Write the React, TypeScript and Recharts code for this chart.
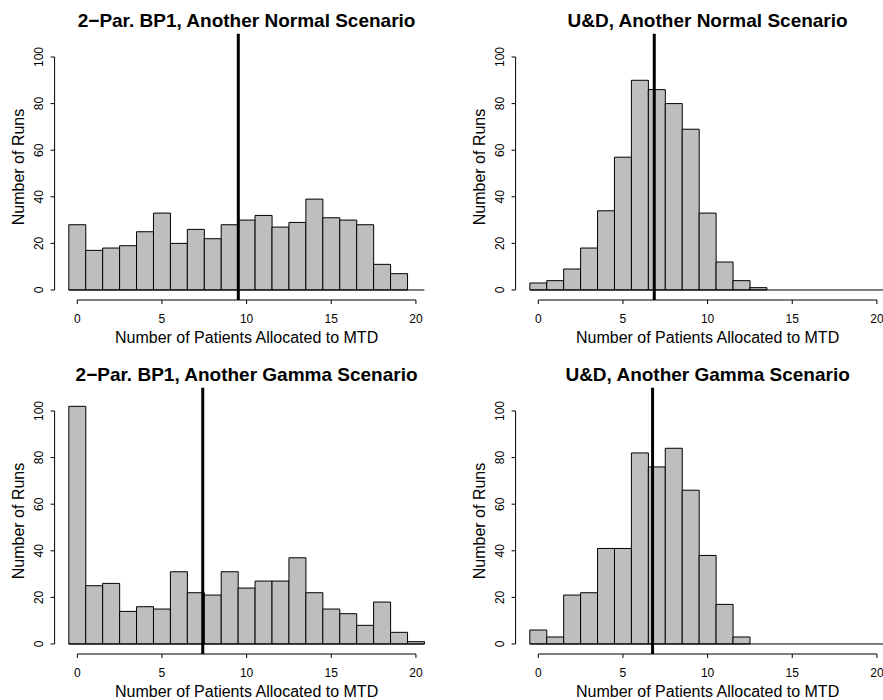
import { ComposedChart, Bar, XAxis, YAxis, ReferenceLine, Label } from "recharts";

const FONT = '"Liberation Sans", Arial, Helvetica, sans-serif';

// bins of the histogram (number of patients allocated to the MTD)
const bins = [0, 1, 2, 3, 4, 5, 6, 7, 8, 9, 10, 11, 12, 13, 14, 15, 16, 17, 18, 19, 20];
const xTicks = [0, 5, 10, 15, 20];
const yTicks = [0, 20, 40, 60, 80, 100];

// counts read off the picture, 500 runs each
const bp1Normal = [28, 17, 18, 19, 25, 33, 20, 26, 22, 28, 30, 32, 27, 29, 39, 31, 30, 28, 11, 7, 0];
const udNormal = [3, 4, 9, 18, 34, 57, 90, 86, 80, 69, 33, 12, 4, 1, 0, 0, 0, 0, 0, 0, 0];
const bp1Gamma = [102, 25, 26, 14, 16, 15, 31, 22, 21, 31, 24, 27, 27, 37, 22, 15, 13, 8, 18, 5, 1];
const udGamma = [6, 3, 21, 22, 41, 41, 82, 76, 84, 66, 38, 17, 3, 0, 0, 0, 0, 0, 0, 0, 0];

// position of the vertical line in each panel
const meanLines = [9.51, 6.85, 7.41, 6.75];

// plot region, R style (4% extension around the breaks / ylim)
const X_MIN = -1.34;
const X_MAX = 21.34;
const Y_MIN = -4.3;
const Y_MAX = 110;
const AXIS_Y = 300; // pixel row of the x axis inside a panel

const XTick = (p: any) => {
  const v = p.payload.value;
  if (!xTicks.includes(v)) return <g />;
  return (
    <g>
      <line x1={p.x} x2={p.x} y1={AXIS_Y} y2={AXIS_Y + 4} stroke="#000" />
      <text x={p.x} y={AXIS_Y + 23.3} textAnchor="middle" fontSize={12} fontFamily={FONT} fill="#000">
        {v}
      </text>
    </g>
  );
};

const YTick = (p: any) => {
  const bx = p.x - 7.3;
  return (
    <text
      x={bx}
      y={p.y}
      transform={`rotate(-90, ${bx}, ${p.y})`}
      textAnchor="middle"
      fontSize={12}
      fontFamily={FONT}
      fill="#000"
    >
      {p.payload.value}
    </text>
  );
};

const Panel = ({ title, counts, mean, left, top }: any) => {
  const data = bins.map((b, i) => ({ bin: b, count: counts[i] }));
  return (
    <div style={{ position: "absolute", left, top }}>
      <ComposedChart
        width={441}
        height={350}
        data={data}
        margin={{ top: 33.7, right: 2.4, bottom: 0, left: 0 }}
        barCategoryGap={0}
        barGap={0}
      >
        <XAxis
          xAxisId="bin"
          dataKey="bin"
          type="category"
          orientation="top"
          height={0}
          hide
          padding={{ left: 14.2, right: 14.2 }}
        />
        <XAxis
          xAxisId="n"
          dataKey="bin"
          type="number"
          domain={[X_MIN, X_MAX]}
          allowDataOverflow
          ticks={xTicks}
          interval={0}
          height={50}
          axisLine={false}
          tickLine={false}
          tick={XTick}
        >
          <Label
            content={() => (
              <text x={246.6} y={343} textAnchor="middle" fontSize={16} fontFamily={FONT} fill="#000">
                Number of Patients Allocated to MTD
              </text>
            )}
          />
        </XAxis>
        <YAxis
          type="number"
          domain={[Y_MIN, Y_MAX]}
          allowDataOverflow
          ticks={yTicks}
          interval={0}
          width={54.6}
          axisLine={false}
          tickLine={{ stroke: "#000" }}
          tickSize={4}
          tickMargin={0}
          tick={YTick}
        >
          <Label
            content={() => (
              <text
                x={24}
                y={167}
                transform="rotate(-90, 24, 167)"
                textAnchor="middle"
                fontSize={16}
                fontFamily={FONT}
                fill="#000"
              >
                Number of Runs
              </text>
            )}
          />
          <Label
            content={() => (
              <text x={246.6} y={27} textAnchor="middle" fontSize={19} fontWeight="bold" fontFamily={FONT} fill="#000">
                {title}
              </text>
            )}
          />
        </YAxis>
        <Bar xAxisId="bin" dataKey="count" fill="#bebebe" stroke="#000" strokeWidth={1} isAnimationActive={false} />
        <ReferenceLine xAxisId="n" ifOverflow="visible" segment={[{ x: -0.5, y: 0 }, { x: 20.5, y: 0 }]} stroke="#000" />
        <ReferenceLine xAxisId="n" ifOverflow="visible" segment={[{ x: 0, y: Y_MIN }, { x: 20, y: Y_MIN }]} stroke="#000" />
        <ReferenceLine xAxisId="n" ifOverflow="visible" segment={[{ x: X_MIN, y: 0 }, { x: X_MIN, y: 100 }]} stroke="#000" />
        <ReferenceLine xAxisId="n" x={mean} stroke="#000" strokeWidth={3} />
      </ComposedChart>
    </div>
  );
};

export default function App() {
  return (
    <div
      style={{
        position: "absolute",
        left: 0,
        top: 0,
        width: 883,
        height: 700,
        overflow: "hidden",
        background: "#fff",
      }}
    >
      <Panel title="2−Par. BP1, Another Normal Scenario" counts={bp1Normal} mean={meanLines[0]} left={0} top={0} />
      <Panel title="U&D, Another Normal Scenario" counts={udNormal} mean={meanLines[1]} left={460.5} top={0} />
      <Panel title="2−Par. BP1, Another Gamma Scenario" counts={bp1Gamma} mean={meanLines[2]} left={0} top={354} />
      <Panel title="U&D, Another Gamma Scenario" counts={udGamma} mean={meanLines[3]} left={460.5} top={354} />
    </div>
  );
}
